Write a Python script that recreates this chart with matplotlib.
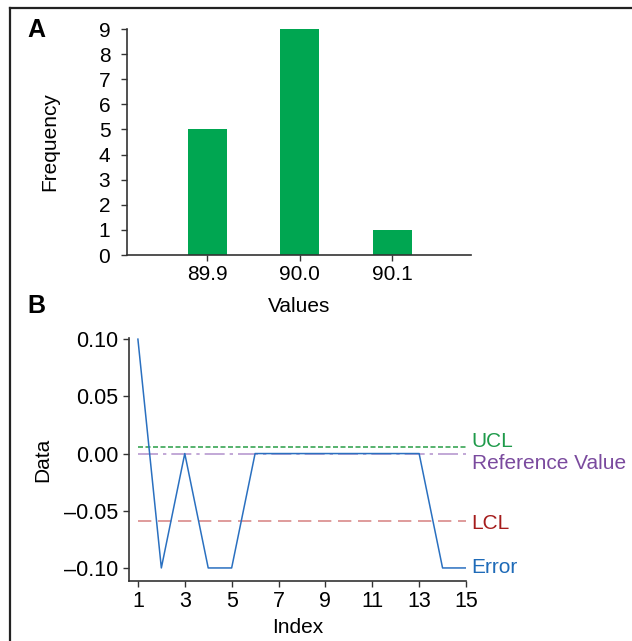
import matplotlib
matplotlib.use("Agg")
import matplotlib.pyplot as plt
from matplotlib.lines import Line2D

plt.rcParams['font.family'] = ['Liberation Sans', 'DejaVu Sans']

# ------------------------------------------------
# Data
# ------------------------------------------------
hist_values = [89.9, 90.0, 90.1]
hist_counts = [5, 9, 1]

index = list(range(1, 16))
error = [0.10, -0.10, 0.00, -0.10, -0.10, 0.00, 0.00, 0.00,
         0.00, 0.00, 0.00, 0.00, 0.00, -0.10, -0.10]
ucl = 0.006
ref_value = 0.0
lcl = -0.0588

BAR_GREEN = "#00a651"
SPINE = "#333333"

fig = plt.figure(figsize=(6.32, 6.41), dpi=100)

# outer frame (top and left edges)
fig.add_artist(Line2D([9.5 / 632, 9.5 / 632], [0, 1 - 7.5 / 641], color="#222222", lw=1.6))
fig.add_artist(Line2D([9.5 / 632, 1], [1 - 7.5 / 641, 1 - 7.5 / 641], color="#222222", lw=1.6))


def style_axes(ax):
    for side in ["top", "right"]:
        ax.spines[side].set_visible(False)
    for side in ["left", "bottom"]:
        ax.spines[side].set_color(SPINE)
        ax.spines[side].set_linewidth(1.2)
    ax.tick_params(direction="out", length=4, width=1, color=SPINE)


# ------------------------------------------------
# Panel A - histogram
# ------------------------------------------------
axA = fig.add_axes([127 / 632, 1 - 255 / 641, 344 / 632, 226 / 641])
axA.bar(hist_values, hist_counts, width=0.042, color=BAR_GREEN)
axA.set_xlim(89.8135, 90.185)
axA.set_ylim(0, 9)
axA.set_xticks(hist_values)
axA.set_xticklabels([f"{v:.1f}" for v in hist_values])
axA.set_yticks(range(0, 10))
axA.set_xlabel("Values", fontsize=15, labelpad=9)
axA.set_ylabel("Frequency", fontsize=15, labelpad=28)
style_axes(axA)
axA.tick_params(labelsize=15)
axA.tick_params(axis="y", pad=8)

# ------------------------------------------------
# Panel B - control chart
# ------------------------------------------------
axB = fig.add_axes([129 / 632, 1 - 581 / 641, 337 / 632, 243 / 641])
axB.plot(index, [ucl] * len(index), color="#3aa655", lw=1.2, ls=(0, (3, 1.5)))
axB.plot(index, [ref_value] * len(index), color="#b89ad0", lw=1.2, ls=(0, (12, 3, 2, 3)))
axB.plot(index, [lcl] * len(index), color="#d98a8a", lw=1.2, ls=(0, (8, 4)))
axB.plot(index, error, color="#2a70c0", lw=1.1)
axB.set_xlim(0.62, 15)
axB.set_ylim(-0.1114, 0.101)
axB.set_xticks(range(1, 16, 2))
axB.set_yticks([-0.10, -0.05, 0.00, 0.05, 0.10])
axB.set_yticklabels([f"{v:.2f}".replace("-", "\u2013") for v in [-0.10, -0.05, 0.00, 0.05, 0.10]])
axB.set_xlabel("Index", fontsize=15, labelpad=4)
axB.set_ylabel("Data", fontsize=15, labelpad=9)
style_axes(axB)
axB.tick_params(labelsize=15.5)

# right-hand line labels
labels = [
    ("UCL", ucl, "#1e9a4a", 4),
    ("Reference Value", ref_value, "#7a4a9e", -7),
    ("LCL", lcl, "#a51c1c", -2),
    ("Error", error[-1], "#1f6bb8", 0),
]
for text, y, col, dy in labels:
    axB.annotate(text, xy=(15, y), xytext=(4, dy), textcoords="offset points",
                 color=col, fontsize=15, va="center", ha="left", annotation_clip=False)

# panel letters
fig.text(27 / 632, 1 - 30 / 641, "A", fontsize=18, fontweight="bold", va="center")
fig.text(27 / 632, 1 - 306 / 641, "B", fontsize=18, fontweight="bold", va="center")

fig.savefig("out.png", dpi=100)
